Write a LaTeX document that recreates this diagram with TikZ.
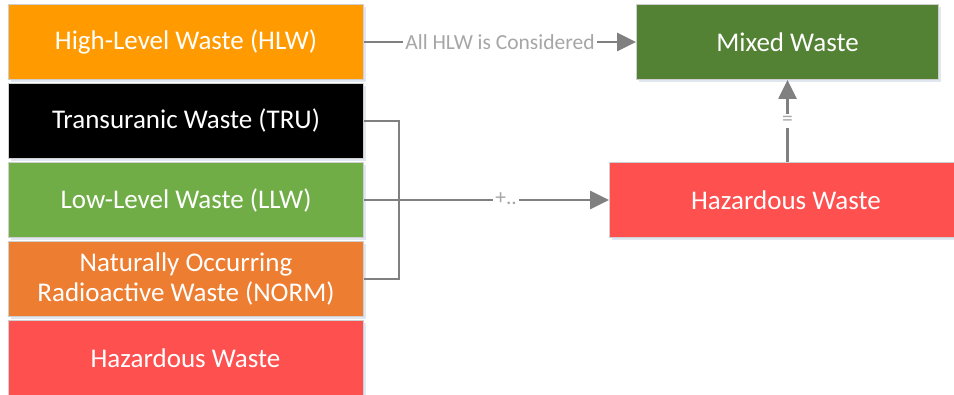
\documentclass[tikz,border=0pt]{standalone}
\usepackage{fontspec}
\setmainfont{Carlito}
\usetikzlibrary{arrows.meta,shadows}
\definecolor{hlwc}{HTML}{FF9A00}
\definecolor{llwc}{HTML}{70AD47}
\definecolor{normc}{HTML}{ED7D31}
\definecolor{hazc}{HTML}{FF5050}
\definecolor{mixc}{HTML}{548235}
\definecolor{linec}{HTML}{808080}
\definecolor{labc}{HTML}{A6A6A6}
\definecolor{bordc}{HTML}{CFCFCF}
\definecolor{shadc}{HTML}{D5DEEA}
\tikzset{
  wbox/.style={draw=bordc, line width=1pt, anchor=north west, text=white,
    font=\fontsize{27}{31}\selectfont, align=center, inner sep=0pt,
    drop shadow={shadow xshift=2pt, shadow yshift=-3pt, fill=shadc, opacity=0.7}},
  lbox/.style={wbox, minimum width=355pt, minimum height=75pt},
  wtext/.style={text=white, font=\fontsize{27}{31}\selectfont},
  conn/.style={draw=linec, line width=2.7pt},
  arr/.style={conn, -{Triangle[length=19pt,width=18pt]}},
  lab/.style={fill=white, text=labc, font=\fontsize{21.5}{25}\selectfont, inner sep=2pt}
}
\begin{document}
\begin{tikzpicture}[x=1pt,y=-1pt]
\clip (0,0) rectangle (954,395);
\fill[white] (0,0) rectangle (954,395);
\node[lbox, fill=hlwc] (hlw) at (8,4) {High-Level Waste (HLW)};
\node[lbox, fill=black] (tru) at (8,83) {Transuranic Waste (TRU)};
\node[lbox, fill=llwc] (llw) at (8,162) {Low-Level Waste (LLW)};
\node[lbox, fill=normc] (norm) at (8,241) {Naturally Occurring\\Radioactive Waste (NORM)};
\node[lbox, fill=hazc, minimum height=80pt] (haz) at (8,320) {};
\node[wtext] (hazt) at (185.5,358) {Hazardous Waste};
\node[wbox, fill=mixc, minimum width=302pt, minimum height=75pt] (mix) at (636,4) {Mixed Waste};
\node[wbox, fill=hazc, minimum width=354pt, minimum height=75pt] (haz2) at (609,162) {};
\node[wtext] (haz2t) at (786,200) {Hazardous Waste};
\draw[arr] (hlw.east) -- node[lab] {All HLW is Considered} (mix.west);
\draw[conn] (tru.east) -- ++(35,0) |- (norm.east);
\draw[arr] (llw.east) -- node[lab, pos=0.58, yshift=1pt] {+..} (haz2.west);
\draw[arr] (haz2.north -| mix.south) -- node[lab] {=} (mix.south);
\end{tikzpicture}
\end{document}
